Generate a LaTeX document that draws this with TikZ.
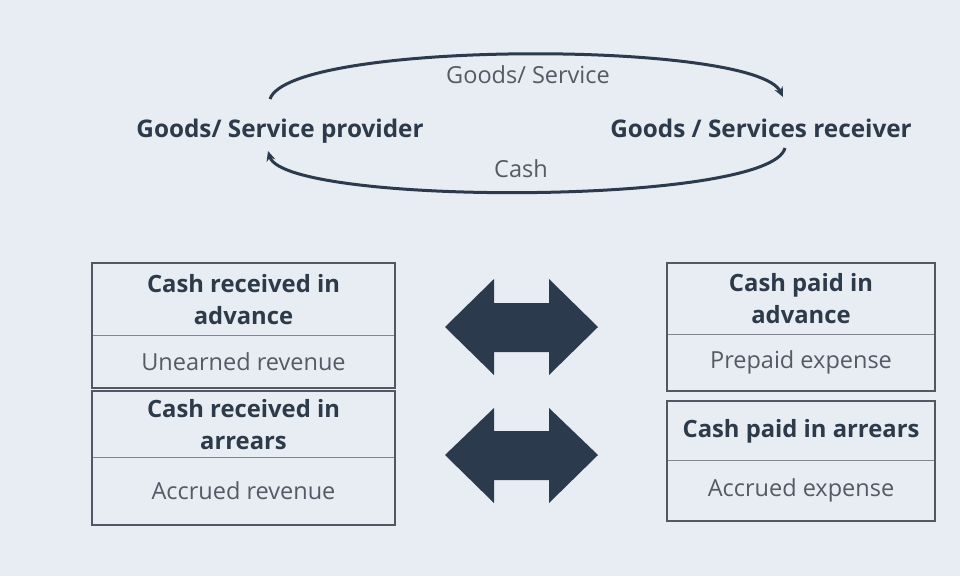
\documentclass[tikz,border=0pt]{standalone}
\usepackage{fontspec}
\setmainfont{Open Sans}
\usetikzlibrary{arrows.meta}
\definecolor{bg}{HTML}{E8ECF3}
\definecolor{darktxt}{HTML}{2D3A4A}
\definecolor{graytxt}{HTML}{535B66}
\definecolor{boxline}{HTML}{4F5863}
\definecolor{divline}{HTML}{80878F}
\definecolor{arrowfill}{HTML}{2B3A4C}
\tikzset{
  lbl/.style={font=\fontsize{23.5}{28}\selectfont, text=graytxt, inner sep=0pt, anchor=base},
  party/.style={font=\bfseries\fontsize{24.3}{28}\selectfont, text=darktxt, inner sep=0pt, anchor=base},
  headcell/.style={draw=divline, line width=1pt, font=\bfseries\fontsize{23.8}{32}\selectfont, text=darktxt, align=center, inner sep=0pt, anchor=north west},
  subcell/.style={draw=divline, line width=1pt, font=\fontsize{23.5}{28}\selectfont, text=graytxt, align=center, inner sep=0pt, anchor=north west},
  outer/.style={draw=boxline, line width=1.6pt},
  flow/.style={draw=arrowfill, line width=3pt, -{Stealth[length=10pt,width=9pt]}},
  bigarrow/.style={fill=arrowfill}
}
\begin{document}
\begin{tikzpicture}[x=1pt,y=-1pt]
\fill[bg] (0,0) rectangle (960,576);
\useasboundingbox (0,0) rectangle (960,576);

% top parties
\node[party] (prov) at (280,137) {Goods/ Service provider};
\node[party] (recv) at (761,137) {Goods / Services receiver};
\node[lbl] (gs) at (528,83) {Goods/ Service};
\node[lbl] (cash) at (521,177) {Cash};
\coordinate (p1) at (270,99);
\coordinate (r1) at (783,97);
\coordinate (r2) at (785,148);
\coordinate (p2) at (268,151);
\draw[flow] (p1) .. controls (290,40) and (755,40) .. (r1);
\draw[flow] (r2) .. controls (770,206) and (285,206) .. (p2);

% left boxes
\node[headcell, minimum width=302pt, minimum height=72pt] (lh1) at (92,263) {Cash received in\\advance};
\node[subcell, minimum width=302pt, minimum height=52pt] (ls1) at (92,335) {Unearned revenue};
\node[headcell, minimum width=302pt, minimum height=66pt] (lh2) at (92,391) {Cash received in\\arrears};
\node[subcell, minimum width=302pt, minimum height=67pt] (ls2) at (92,457) {Accrued revenue};
\draw[outer] (lh1.north west) rectangle (ls1.south east);
\draw[outer] (lh2.north west) rectangle (ls2.south east);

% right boxes
\node[headcell, minimum width=267pt, minimum height=71pt] (rh1) at (667,263) {Cash paid in\\advance};
\node[subcell, minimum width=267pt, minimum height=56pt] (rs1) at (667,334) {Prepaid expense};
\node[headcell, minimum width=267pt, minimum height=59pt] (rh2) at (667,401) {Cash paid in arrears};
\node[subcell, minimum width=267pt, minimum height=60pt] (rs2) at (667,460) {Accrued expense};
\draw[outer] (rh1.north west) rectangle (rs1.south east);
\draw[outer] (rh2.north west) rectangle (rs2.south east);

% double arrows
\fill[bigarrow] (445,327) -- (494,279) -- (494,303) -- (549,303) -- (549,279) -- (598,327)
  -- (549,375) -- (549,352) -- (494,352) -- (494,375) -- cycle;
\fill[bigarrow] (445,455) -- (494,408) -- (494,431) -- (549,431) -- (549,408) -- (598,455)
  -- (549,503) -- (549,480) -- (494,480) -- (494,503) -- cycle;
\end{tikzpicture}
\end{document}
